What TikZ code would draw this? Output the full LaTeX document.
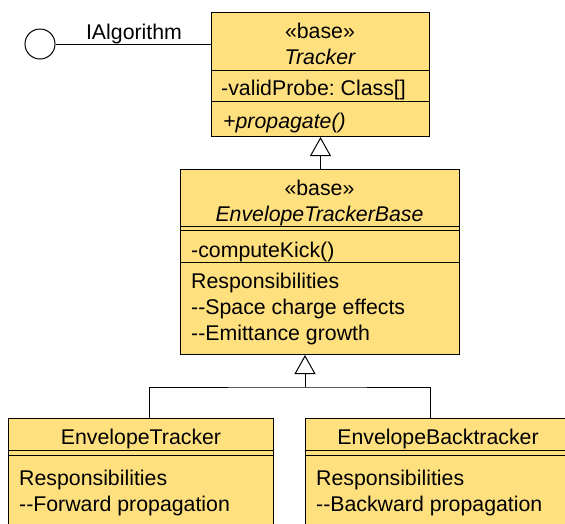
\documentclass[tikz,border=0pt]{standalone}
\usepackage{fontspec}
\setmainfont{Liberation Sans}
\usetikzlibrary{arrows.meta}
\definecolor{umlfill}{HTML}{FFE07F}
\begin{document}
\begin{tikzpicture}[x=1pt,y=-1pt,
  box/.style={draw=black, fill=umlfill, line width=1pt, inner sep=0pt, anchor=north west},
  sep/.style={draw=black, line width=1pt},
  txt/.style={font=\fontsize{21.3}{24}\selectfont\frenchspacing, inner sep=0pt},
  lt/.style={txt, anchor=base west},
  ct/.style={txt, anchor=base},
  conn/.style={draw=black, line width=1pt},
  gen/.style={conn, -{Triangle[open, length=19pt, width=21pt, line width=1pt]}}
]
\useasboundingbox (0,0) rectangle (565,523);
\clip (0,0) rectangle (565,523);

% interface lollipop
\node[draw=black, line width=1pt, circle, minimum size=30pt, inner sep=0pt] (iface) at (40,44) {};
\node[ct] (ialg) at (134,39) {IAlgorithm};

% Tracker
\node[box, minimum width=218pt, minimum height=124pt] (tracker) at (211,12) {};
\draw[sep] (211,70) -- (429,70);
\draw[sep] (211,101) -- (429,101);
\node[ct] (trst) at (320,38) {«base»};
\node[ct] (trname) at (320,64) {\itshape Tracker};
\node[lt] (trattr) at (221,95) {-validProbe: Class[]};
\node[lt] (trop) at (223,128) {\itshape +propagate()};

\draw[conn] (iface.east) -- (iface.east -| tracker.west);

% EnvelopeTrackerBase
\node[box, minimum width=279pt, minimum height=185pt] (base) at (180,169) {};
\draw[sep] (180,226) -- (459,226);
\draw[sep] (180,230.5) -- (459,230.5);
\draw[sep] (180,262) -- (459,262);
\node[ct] (bst) at (319.5,195) {«base»};
\node[ct] (bname) at (319.5,221) {\itshape EnvelopeTrackerBase};
\node[lt] (bop) at (191,257) {-computeKick()};
\node[lt] (br1) at (191,288) {Responsibilities};
\node[lt] (br2) at (191,314) {-{}-Space charge effects};
\node[lt] (br3) at (191,340) {-{}-Emittance growth};

\draw[gen] (base.north -| tracker.south) -- (tracker.south);

% EnvelopeTracker
\node[box, minimum width=265pt, minimum height=120pt] (fwd) at (8,418) {};
\draw[sep] (8,450) -- (273,450);
\draw[sep] (8,455) -- (273,455);
\node[ct] (fname) at (141,444) {EnvelopeTracker};
\node[lt] (fr1) at (19,485) {Responsibilities};
\node[lt] (fr2) at (19,511) {-{}-Forward propagation};

% EnvelopeBacktracker
\node[box, minimum width=266pt, minimum height=120pt] (bwd) at (305,418) {};
\draw[sep] (305,450) -- (571,450);
\draw[sep] (305,455) -- (571,455);
\node[ct] (bwname) at (438,444) {EnvelopeBacktracker};
\node[lt] (bwr1) at (316,485) {Responsibilities};
\node[lt] (bwr2) at (316,511) {-{}-Backward propagation};

% generalization tree
\coordinate (junc) at (305,387);
\coordinate (ftop) at (149,418);
\coordinate (btop) at (430,418);
\draw[gen] (junc) -- (junc |- base.south);
\draw[conn] (ftop) |- (junc) -| (btop);
\end{tikzpicture}
\end{document}
